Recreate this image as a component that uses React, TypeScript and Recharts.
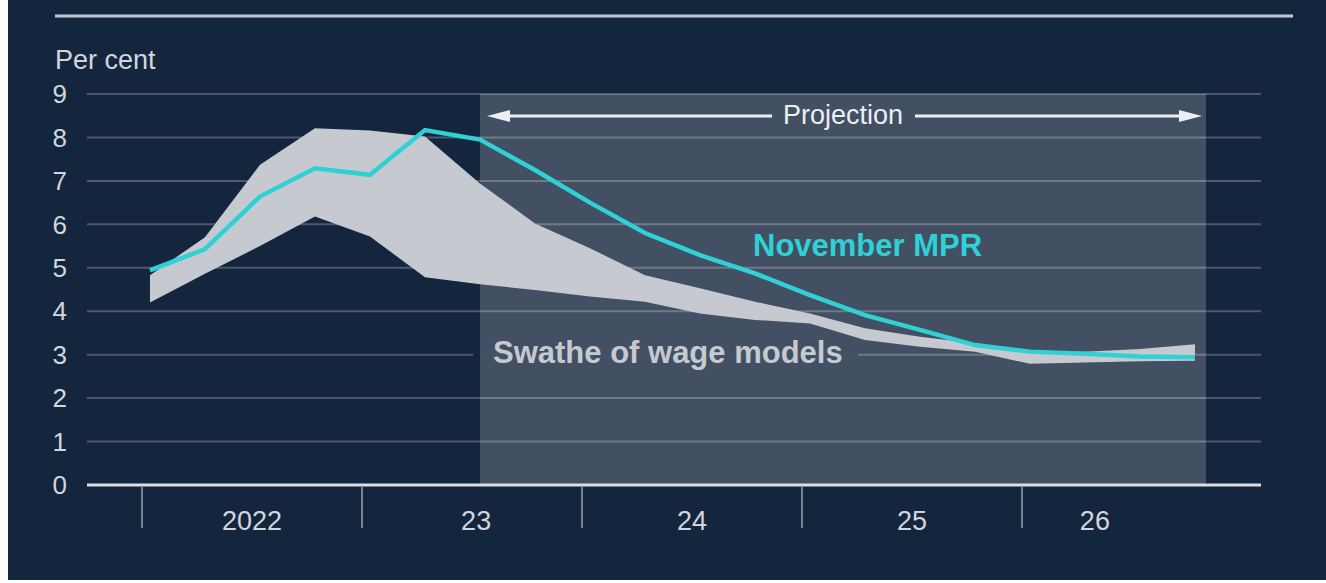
import React from "react";
import {
  Area,
  CartesianGrid,
  ComposedChart,
  Line,
  ReferenceArea,
  XAxis,
  YAxis,
} from "recharts";

// quarterly, 2022 Q1 .. 2026 Q4
const quarters = [
  "2022 Q1", "2022 Q2", "2022 Q3", "2022 Q4",
  "2023 Q1", "2023 Q2", "2023 Q3", "2023 Q4",
  "2024 Q1", "2024 Q2", "2024 Q3", "2024 Q4",
  "2025 Q1", "2025 Q2", "2025 Q3", "2025 Q4",
  "2026 Q1", "2026 Q2", "2026 Q3", "2026 Q4",
];
const novemberMpr = [
  4.94, 5.43, 6.64, 7.29, 7.14, 8.17, 7.95, 7.25, 6.5, 5.8,
  5.29, 4.87, 4.37, 3.91, 3.57, 3.22, 3.07, 3.02, 2.96, 2.94,
];
const swatheLow = [
  4.2, 4.86, 5.5, 6.18, 5.72, 4.78, 4.62, 4.49, 4.34, 4.22,
  3.95, 3.8, 3.72, 3.34, 3.18, 3.07, 2.79, 2.82, 2.85, 2.86,
];
const swatheHigh = [
  4.83, 5.7, 7.37, 8.21, 8.16, 8.02, 6.94, 6.02, 5.45, 4.83,
  4.53, 4.22, 3.95, 3.61, 3.41, 3.26, 3.08, 3.07, 3.13, 3.24,
];

const yTicks = [0, 1, 2, 3, 4, 5, 6, 7, 8, 9];
const yearLabels = ["2022", "23", "24", "25", "26"];
const yearLabelTicks = [1.855, 5.93, 9.855, 13.855, 17.18];
const yearStartTicks = [-0.145, 3.855, 7.855, 11.855, 15.855];
const projectionStart = 6;
const projectionEnd = 19.2;

const chartData = quarters.map((quarter, i) => ({
  idx: i,
  quarter,
  mpr: novemberMpr[i],
  swathe: [swatheLow[i], swatheHigh[i]],
}));

const FONT = "'Liberation Sans', Arial, sans-serif";
const NAVY = "#14253e";
const TEXT = "#d2d6dc";
const BAND = "#c6c9cf";
const TEAL = "#2fd1d5";

function YearTick(props: any) {
  const { x, y, payload } = props;
  const b = yearStartTicks.indexOf(payload.value);
  if (b >= 0) {
    return <line x1={x} x2={x} y1={y + 2} y2={y + 43} stroke="#9aa3ae" strokeWidth={1.5} />;
  }
  const j = yearLabelTicks.indexOf(payload.value);
  return (
    <text x={x} y={y + 45} textAnchor="middle" fill={TEXT} fontSize={27} fontFamily={FONT}>
      {yearLabels[j]}
    </text>
  );
}

export default function App() {
  return (
    <div style={{ position: "absolute", left: 0, top: 0, width: 1326, height: 583 }}>
      <div style={{ position: "absolute", left: 8, top: 0, width: 1318, height: 580, background: NAVY }} />
      <div style={{ position: "absolute", left: 0, top: 0 }}>
        <ComposedChart
          width={1326}
          height={583}
          data={chartData}
          margin={{ top: 94, right: 5, bottom: 48, left: 27 }}
        >
          <CartesianGrid vertical={false} stroke="rgba(255,255,255,0.24)" strokeWidth={2} />
          <ReferenceArea
            x1={projectionStart}
            x2={projectionEnd}
            y1={0}
            y2={9}
            fill="#ffffff"
            fillOpacity={0.2}
            stroke="none"
          />
          <XAxis
            dataKey="idx"
            type="number"
            domain={[-1.145, 20.2]}
            allowDataOverflow
            ticks={[...yearStartTicks, ...yearLabelTicks]}
            interval={0}
            tick={(p: any) => <YearTick {...p} />}
            tickLine={false}
            tickSize={0}
            tickMargin={0}
            height={50}
            axisLine={{ stroke: "#dadde2", strokeWidth: 3 }}
          />
          <YAxis
            domain={[0, 9]}
            ticks={yTicks}
            interval={0}
            width={60}
            axisLine={false}
            tickLine={false}
            tickSize={6}
            tickMargin={14}
            tick={{ fill: TEXT, fontSize: 26, fontFamily: FONT }}
          />
          <YAxis
            yAxisId="right"
            orientation="right"
            domain={[0, 9]}
            ticks={yTicks}
            interval={0}
            width={60}
            axisLine={false}
            tickLine={false}
            tickSize={6}
            tickMargin={11}
            tick={{ fill: TEXT, fontSize: 26, fontFamily: FONT, textAnchor: "start" }}
          />
          <Area
            dataKey="swathe"
            type="linear"
            fill={BAND}
            fillOpacity={1}
            stroke="none"
            isAnimationActive={false}
          />
          <Line
            dataKey="mpr"
            type="linear"
            stroke={TEAL}
            strokeWidth={4.5}
            dot={false}
            isAnimationActive={false}
          />
        </ComposedChart>
      </div>
      <svg
        width={1326}
        height={583}
        style={{ position: "absolute", left: 0, top: 0, pointerEvents: "none" }}
        fontFamily={FONT}
      >
        <line x1={55} x2={1293} y1={16} y2={16} stroke="#c3c8d0" strokeWidth={3} />
        <text x={55} y={69} fill={TEXT} fontSize={27}>Per cent</text>

        <line x1={505} x2={772} y1={116} y2={116} stroke="#eceef1" strokeWidth={3} />
        <polygon points="487,116 510,110 510,122" fill="#eceef1" />
        <text x={783} y={124} fill="#eceef1" fontSize={27}>Projection</text>
        <line x1={915} x2={1185} y1={116} y2={116} stroke="#eceef1" strokeWidth={3} />
        <polygon points="1202,116 1179,110 1179,122" fill="#eceef1" />

        <text x={753} y={256} fill={TEAL} fontSize={31} fontWeight="bold">November MPR</text>

        <rect x={473} y={351} width={7} height={8} fill={NAVY} />
        <rect x={480} y={351} width={378} height={8} fill="#435166" />
        <text x={493} y={363} fill={BAND} fontSize={31} fontWeight="bold">Swathe of wage models</text>
      </svg>
    </div>
  );
}
